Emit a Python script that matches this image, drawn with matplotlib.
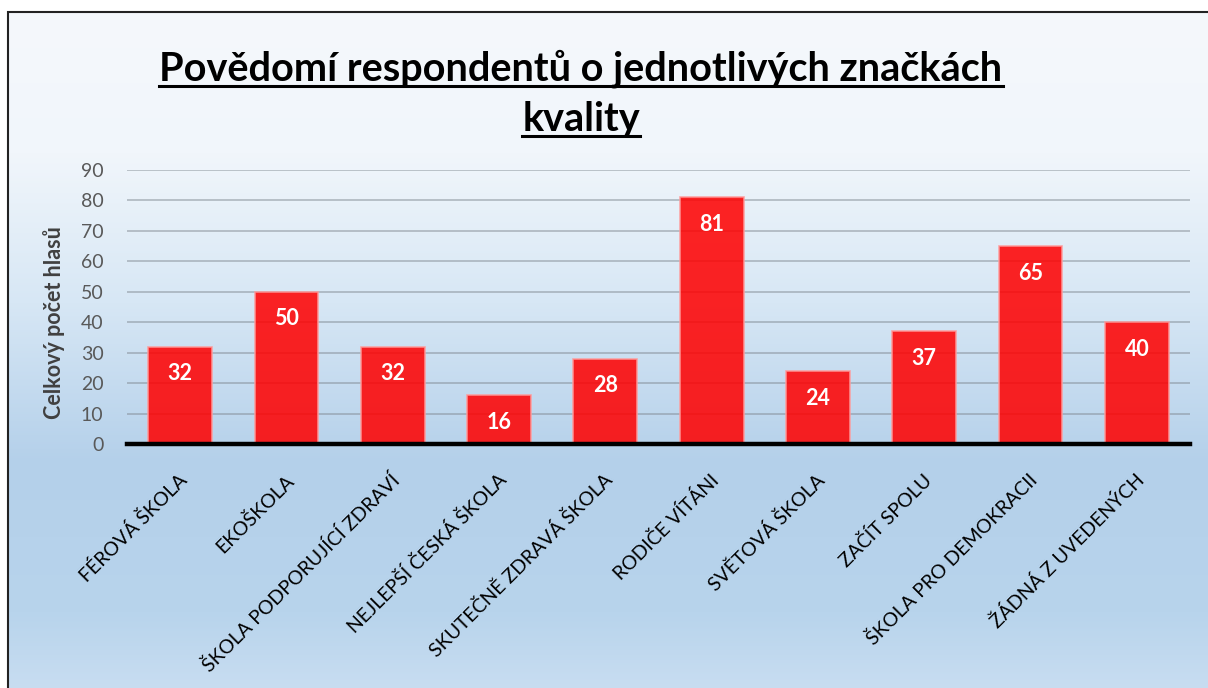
import matplotlib
matplotlib.use("Agg")
import matplotlib.pyplot as plt
import numpy as np
from matplotlib.patches import Rectangle
from matplotlib.lines import Line2D
import matplotlib.transforms as mtransforms

# data
categories = ["FÉROVÁ ŠKOLA", "EKOŠKOLA", "ŠKOLA PODPORUJÍCÍ ZDRAVÍ",
              "NEJLEPŠÍ ČESKÁ ŠKOLA", "SKUTEČNĚ ZDRAVÁ ŠKOLA", "RODIČE VÍTÁNI",
              "SVĚTOVÁ ŠKOLA", "ZAČÍT SPOLU", "ŠKOLA PRO DEMOKRACII",
              "ŽÁDNÁ Z UVEDENÝCH"]
votes = [32, 50, 32, 16, 28, 81, 24, 37, 65, 40]
yticks = [0, 10, 20, 30, 40, 50, 60, 70, 80, 90]

title_line1 = "Povědomí respondentů o jednotlivých značkách"
title_line2 = "kvality"
ylabel = "Celkový počet hlasů"

plt.rcParams['font.family'] = ['Lato', 'DejaVu Sans']

W, H = 1208, 688
fig = plt.figure(figsize=(W / 100, H / 100), dpi=100)
fig.patch.set_facecolor('white')

# gradient background inside the frame
bg = fig.add_axes([8 / W, 0, 1 - 8 / W, (H - 12) / H])
bg.set_axis_off()
stops_y = [0, 140, 290, 450, 600, 676]
stops_c = [(245, 248, 252), (241, 246, 251), (215, 231, 245),
           (180, 208, 234), (184, 212, 236), (200, 221, 241)]
yy = np.arange(676)
grad = np.zeros((676, 1, 3))
for k in range(3):
    grad[:, 0, k] = np.interp(yy, stops_y, [c[k] for c in stops_c]) / 255
bg.imshow(grad, aspect='auto', extent=[0, 1, 1, 0])
bg.set_xlim(0, 1)
bg.set_ylim(1, 0)

# frame border
fig.patches.append(Rectangle((8 / W, -0.1), 2, (H - 12) / H + 0.1, fill=False,
                             edgecolor='#222222', linewidth=1.5,
                             transform=fig.transFigure, figure=fig))

ax = fig.add_axes([127 / W, (H - 444) / H, (1190 - 127) / W, (444 - 170) / H])
ax.set_facecolor('none')
x = np.arange(len(categories))
bars = ax.bar(x, votes, width=0.6, color='#ff0000', alpha=0.86,
              edgecolor='#ff9a9a', linewidth=1.2, zorder=3)
ax.set_xlim(-0.5, len(categories) - 0.5)
ax.set_ylim(0, 90)
ax.set_yticks(yticks)
ax.yaxis.grid(True, color='#7f8790', alpha=0.55, linewidth=1.2, zorder=1)
ax.set_axisbelow(True)
for s in ax.spines.values():
    s.set_visible(False)
ax.axhline(0, color='black', linewidth=3.2, zorder=5, clip_on=False)
ax.tick_params(axis='both', length=0)
ax.tick_params(axis='y', labelsize=14, labelcolor='#595959', pad=17)

ax.set_xticks(x)
ax.set_xticklabels(categories, rotation=45, ha='right', va='top',
                   rotation_mode='anchor', fontsize=14, color='black')
offset = mtransforms.ScaledTranslation(-2 / 100, -22 / 100, fig.dpi_scale_trans)
for lab in ax.get_xticklabels():
    lab.set_transform(lab.get_transform() + offset)

ax.set_ylabel(ylabel, fontsize=15.5, fontweight='bold', color='#404040')
ax.yaxis.set_label_coords(-62 / (1190 - 127), 0.445)

for xi, v in zip(x, votes):
    ax.annotate(str(v), (xi, v), xytext=(0, -19.5), textcoords='offset points',
                ha='center', va='center', color='white', fontsize=15.5,
                fontweight='bold', zorder=6)

t1 = fig.text(581 / W, 1 - 69 / H, title_line1, ha='center', va='center',
              fontsize=28.5, fontweight='bold', color='black')
t2 = fig.text(581 / W, 1 - 119 / H, title_line2, ha='center', va='center',
              fontsize=28.5, fontweight='bold', color='black')

# underline the title
renderer = fig.canvas.get_renderer()
for t, uy in [(t1, 86), (t2, 136)]:
    bb = t.get_window_extent(renderer)
    fig.lines.append(Line2D([bb.x0 / W, bb.x1 / W], [1 - uy / H, 1 - uy / H],
                            color='black', linewidth=2.2,
                            transform=fig.transFigure, figure=fig))

fig.savefig('out.png', dpi=100)
